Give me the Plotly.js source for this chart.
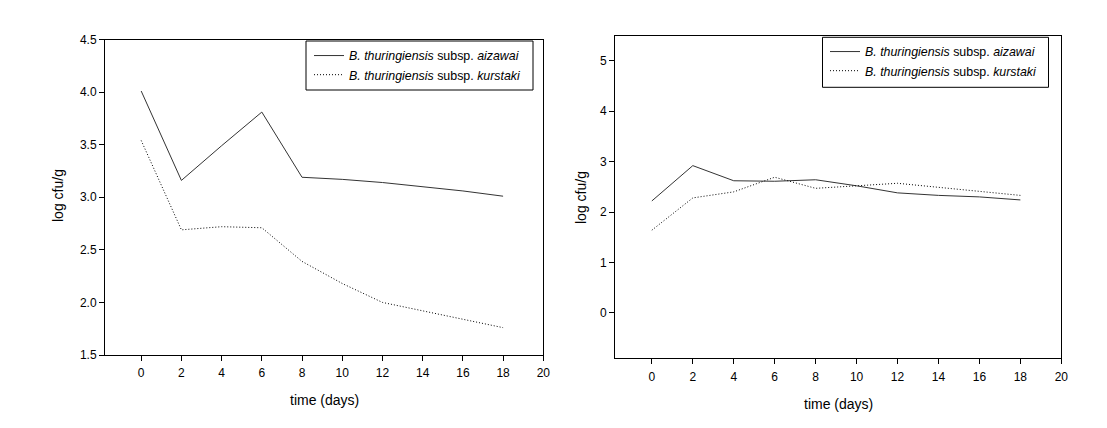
<!DOCTYPE html>
<html>
<head>
<meta charset="utf-8">
<script src="https://cdn.plot.ly/plotly-3.0.1.min.js"></script>
<style>html,body{margin:0;padding:0;background:#fff;}#chart{width:1107px;height:428px;}</style>
</head>
<body>
<div id="chart"></div>
<script>
var days = [0, 2, 4, 6, 8, 10, 12, 14, 16, 18];
var leftAizawai  = [4.01, 3.16, 3.49, 3.81, 3.19, 3.17, 3.14, 3.10, 3.06, 3.01];
var leftKurstaki = [3.54, 2.69, 2.72, 2.71, 2.39, 2.18, 2.00, 1.92, 1.84, 1.76];
var rightAizawai  = [2.22, 2.92, 2.62, 2.61, 2.64, 2.52, 2.38, 2.33, 2.30, 2.24];
var rightKurstaki = [1.64, 2.28, 2.40, 2.69, 2.47, 2.52, 2.57, 2.49, 2.41, 2.33];
var nameAizawai  = '<i>B. thuringiensis</i> subsp. <i>aizawai</i>';
var nameKurstaki = '<i>B. thuringiensis</i> subsp. <i>kurstaki</i>';
var xTitle = 'time (days)';
var yTitle = 'log cfu/g';
var xTicks = [0, 2, 4, 6, 8, 10, 12, 14, 16, 18, 20];
var yTicksLeft = [1.5, 2.0, 2.5, 3.0, 3.5, 4.0, 4.5];
var yTicksRight = [0, 1, 2, 3, 4, 5];

var W = 1107, H = 428;
var FONT = 'Liberation Sans, Arial, sans-serif';

var traces = [
  {x: days, y: leftAizawai, name: nameAizawai, mode: 'lines', xaxis: 'x', yaxis: 'y',
   line: {color: '#333333', width: 1}, legend: 'legend'},
  {x: days, y: leftKurstaki, name: nameKurstaki, mode: 'lines', xaxis: 'x', yaxis: 'y',
   line: {color: '#000000', width: 1, dash: '1px,2px'}, legend: 'legend'},
  {x: days, y: rightAizawai, name: nameAizawai, mode: 'lines', xaxis: 'x2', yaxis: 'y2',
   line: {color: '#333333', width: 1}, legend: 'legend2'},
  {x: days, y: rightKurstaki, name: nameKurstaki, mode: 'lines', xaxis: 'x2', yaxis: 'y2',
   line: {color: '#000000', width: 1, dash: '1px,2px'}, legend: 'legend2'}
];

function xa(d0, d1, anchor) {
  return {domain: [d0 / W, d1 / W], anchor: anchor, range: [-1.8, 20],
    tickvals: xTicks, ticks: 'outside', ticklen: 5, tickwidth: 1, tickcolor: '#000',
    ticklabelstandoff: 2,
    showline: true, linecolor: '#000', linewidth: 1, mirror: true, showgrid: false, zeroline: false,
    tickfont: {size: 12, color: '#000', family: FONT},
    automargin: false};
}
function ya(top, bot, anchor, range, tv, fmt) {
  return {domain: [1 - bot / H, 1 - top / H], anchor: anchor, range: range,
    tickvals: tv, tickformat: fmt, ticks: 'outside', ticklen: 5, tickwidth: 1, tickcolor: '#000',
    showline: true, linecolor: '#000', linewidth: 1, mirror: true, showgrid: false, zeroline: false,
    tickfont: {size: 12, color: '#000', family: FONT},
    automargin: false};
}

var legendBase = {xanchor: 'left', yanchor: 'top', bgcolor: 'rgba(0,0,0,0)', borderwidth: 0,
  font: {size: 12.4, color: '#000', family: FONT}, tracegroupgap: 0};

function box(x0, x1, y0, y1) {
  return {type: 'rect', xref: 'paper', yref: 'paper', x0: x0 / W, x1: x1 / W, y0: 1 - y1 / H, y1: 1 - y0 / H,
    line: {color: '#000', width: 1}, fillcolor: '#fff', layer: 'below'};
}
function title(text, px, py, rot) {
  return {text: text, xref: 'paper', yref: 'paper', x: px / W, y: 1 - py / H,
    xanchor: 'center', yanchor: 'middle', showarrow: false, textangle: rot,
    font: {size: 14, color: '#000', family: FONT}};
}

var layout = {
  width: W, height: H,
  margin: {l: 0, r: 0, t: 0, b: 0},
  paper_bgcolor: '#fff', plot_bgcolor: 'rgba(0,0,0,0)',
  showlegend: true,
  font: {family: FONT, color: '#000'},
  xaxis: xa(105, 543.3, 'y'),
  yaxis: ya(39.5, 355, 'x', [1.5, 4.5], yTicksLeft, '.1f'),
  xaxis2: xa(615, 1061.3, 'y2'),
  yaxis2: ya(35.5, 358.3, 'x2', [-0.9, 5.5], yTicksRight, 'd'),
  legend: Object.assign({}, legendBase, {x: 309 / W, y: 1 - 41 / H}),
  legend2: Object.assign({}, legendBase, {x: 825 / W, y: 1 - 37 / H}),
  shapes: [box(306, 533, 41, 90), box(822.5, 1048.5, 37.3, 87.3)],
  annotations: [
    title(xTitle, 324, 400, 0),
    title(xTitle, 838, 404, 0),
    title(yTitle, 58, 196, -90),
    title(yTitle, 581, 198, -90)
  ]
};

Plotly.newPlot('chart', traces, layout, {staticPlot: true, displayModeBar: false});
</script>
</body>
</html>
